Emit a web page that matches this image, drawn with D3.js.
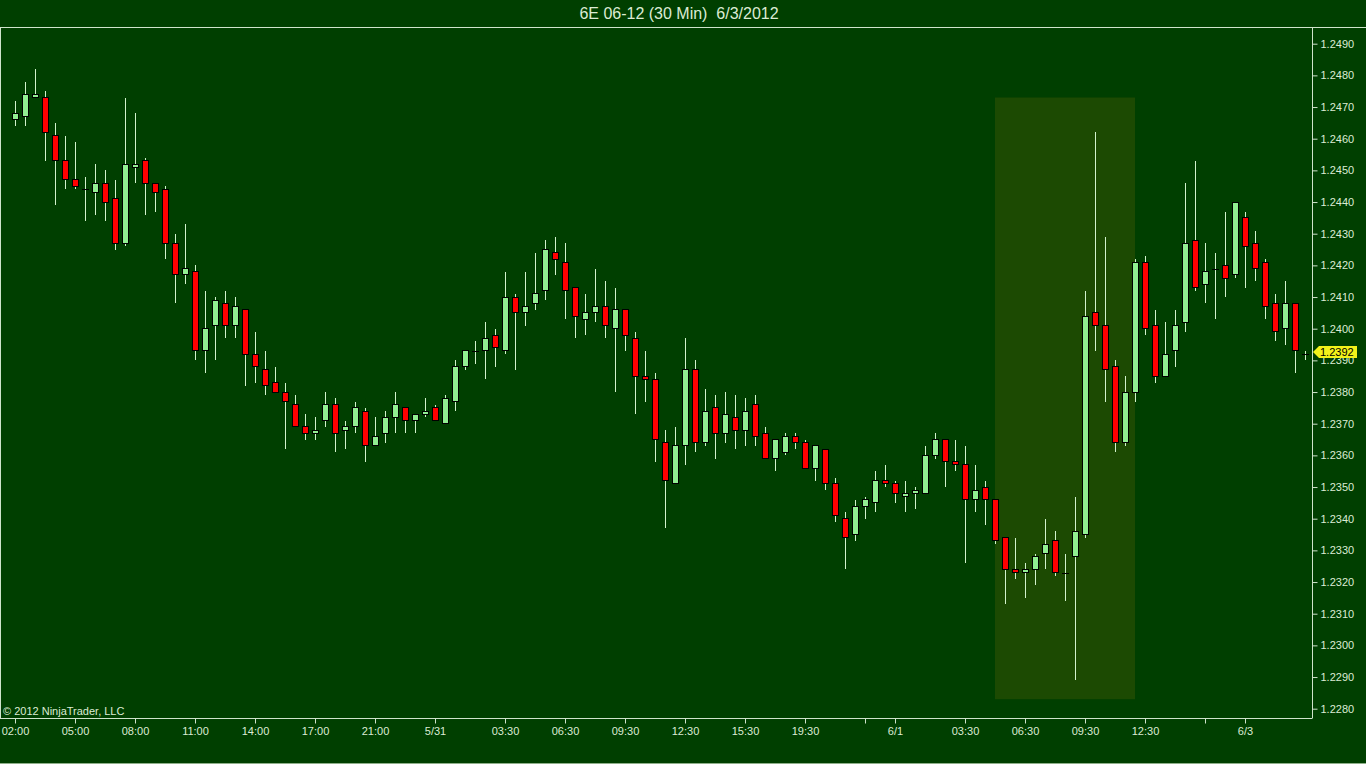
<!DOCTYPE html>
<html>
<head>
<meta charset="utf-8">
<script src="https://cdn.jsdelivr.net/npm/d3@7"></script>
<style>
  html, body { margin: 0; padding: 0; background: #003f00; }
  svg { display: block; }
  text { font-family: "Liberation Sans", Arial, sans-serif; }
</style>
</head>
<body>
<div id="plot-container"></div>
<script>
// 30 min bars, 6E 06-12
var opens = [
  1.2466, 1.2467, 1.2473, 1.2473, 1.2461, 1.2453, 1.2447, 1.2444, 1.2443, 1.2446,
  1.2441, 1.2427, 1.2451, 1.2453, 1.2446, 1.2444, 1.2427, 1.2417, 1.2418, 1.2393,
  1.2401, 1.2408, 1.2401, 1.2406, 1.2392, 1.2387, 1.2383, 1.2380, 1.2376, 1.2369,
  1.2367, 1.2371, 1.2376, 1.2368, 1.2369, 1.2374, 1.2363, 1.2367, 1.2372, 1.2375,
  1.2371, 1.2373, 1.2375, 1.2370, 1.2377, 1.2388, 1.2393, 1.2393, 1.2398, 1.2393,
  1.2410, 1.2405, 1.2408, 1.2412, 1.2424, 1.2421, 1.2413, 1.2403, 1.2405, 1.2407,
  1.2400, 1.2406, 1.2397, 1.2385, 1.2384, 1.2364, 1.2351, 1.2363, 1.2387, 1.2364,
  1.2375, 1.2367, 1.2372, 1.2368, 1.2376, 1.2367, 1.2359, 1.2361, 1.2366, 1.2364,
  1.2356, 1.2362, 1.2351, 1.2340, 1.2335, 1.2344, 1.2345, 1.2352, 1.2351, 1.2347,
  1.2348, 1.2348, 1.2360, 1.2365, 1.2358, 1.2357, 1.2346, 1.2350, 1.2346, 1.2334,
  1.2324, 1.2323, 1.2324, 1.2329, 1.2333, 1.2323, 1.2328, 1.2335, 1.2405, 1.2401,
  1.2388, 1.2364, 1.2380, 1.2421, 1.2401, 1.2385, 1.2393, 1.2402, 1.2428, 1.2414,
  1.2419, 1.2420, 1.2417, 1.2435, 1.2427, 1.2421, 1.2408, 1.2400, 1.2408, 1.2392
];
var highs = [
  1.2472, 1.2478, 1.2482, 1.2475, 1.2465, 1.2461, 1.2459, 1.2448, 1.2452, 1.2450,
  1.2447, 1.2473, 1.2468, 1.2454, 1.2446, 1.2445, 1.2430, 1.2433, 1.2420, 1.2412,
  1.2410, 1.2412, 1.2410, 1.2406, 1.2399, 1.2393, 1.2388, 1.2383, 1.2379, 1.2373,
  1.2372, 1.2380, 1.2378, 1.2371, 1.2377, 1.2375, 1.2372, 1.2374, 1.2380, 1.2375,
  1.2373, 1.2378, 1.2376, 1.2379, 1.2390, 1.2393, 1.2396, 1.2402, 1.2400, 1.2418,
  1.2411, 1.2418, 1.2424, 1.2428, 1.2429, 1.2427, 1.2413, 1.2411, 1.2419, 1.2415,
  1.2413, 1.2406, 1.2399, 1.2393, 1.2386, 1.2368, 1.2369, 1.2397, 1.2390, 1.2381,
  1.2379, 1.2380, 1.2379, 1.2378, 1.2379, 1.2369, 1.2365, 1.2367, 1.2367, 1.2365,
  1.2363, 1.2362, 1.2353, 1.2342, 1.2346, 1.2347, 1.2355, 1.2357, 1.2352, 1.2352,
  1.2350, 1.2363, 1.2367, 1.2365, 1.2365, 1.2363, 1.2357, 1.2352, 1.2346, 1.2334,
  1.2334, 1.2326, 1.2329, 1.2340, 1.2336, 1.2329, 1.2347, 1.2412, 1.2462, 1.2429,
  1.2390, 1.2385, 1.2422, 1.2423, 1.2406, 1.2402, 1.2406, 1.2446, 1.2453, 1.2427,
  1.2424, 1.2437, 1.2440, 1.2437, 1.2431, 1.2422, 1.2411, 1.2415, 1.2408, 1.2393
];
var lows = [
  1.2464, 1.2464, 1.2473, 1.2453, 1.2439, 1.2444, 1.2444, 1.2434, 1.2436, 1.2434,
  1.2425, 1.2426, 1.2446, 1.2436, 1.2437, 1.2422, 1.2408, 1.2414, 1.2390, 1.2386,
  1.2390, 1.2397, 1.2397, 1.2382, 1.2383, 1.2379, 1.2380, 1.2362, 1.2369, 1.2365,
  1.2365, 1.2369, 1.2361, 1.2362, 1.2367, 1.2358, 1.2363, 1.2364, 1.2367, 1.2367,
  1.2367, 1.2372, 1.2371, 1.2370, 1.2374, 1.2387, 1.2389, 1.2384, 1.2388, 1.2392,
  1.2387, 1.2401, 1.2406, 1.2409, 1.2417, 1.2403, 1.2397, 1.2398, 1.2402, 1.2397,
  1.2380, 1.2393, 1.2373, 1.2377, 1.2358, 1.2337, 1.2351, 1.2357, 1.2361, 1.2363,
  1.2359, 1.2364, 1.2362, 1.2363, 1.2363, 1.2359, 1.2355, 1.2360, 1.2362, 1.2356,
  1.2352, 1.2349, 1.2339, 1.2324, 1.2333, 1.2340, 1.2342, 1.2350, 1.2345, 1.2342,
  1.2343, 1.2348, 1.2359, 1.2350, 1.2355, 1.2326, 1.2342, 1.2338, 1.2332, 1.2313,
  1.2321, 1.2315, 1.2319, 1.2324, 1.2322, 1.2314, 1.2289, 1.2334, 1.2393, 1.2377,
  1.2361, 1.2363, 1.2377, 1.2398, 1.2383, 1.2385, 1.2388, 1.2399, 1.2412, 1.2408,
  1.2403, 1.2410, 1.2416, 1.2413, 1.2415, 1.2403, 1.2396, 1.2395, 1.2386, 1.2390
];
var closes = [
  1.2468, 1.2474, 1.2474, 1.2462, 1.2453, 1.2447, 1.2445, 1.2444, 1.2446, 1.2440,
  1.2427, 1.2452, 1.2452, 1.2446, 1.2443, 1.2427, 1.2417, 1.2419, 1.2393, 1.2400,
  1.2409, 1.2401, 1.2407, 1.2392, 1.2388, 1.2382, 1.2380, 1.2377, 1.2369, 1.2367,
  1.2368, 1.2376, 1.2367, 1.2369, 1.2375, 1.2363, 1.2366, 1.2372, 1.2376, 1.2371,
  1.2373, 1.2374, 1.2371, 1.2378, 1.2388, 1.2393, 1.2393, 1.2397, 1.2394, 1.2410,
  1.2405, 1.2407, 1.2411, 1.2425, 1.2422, 1.2412, 1.2404, 1.2405, 1.2407, 1.2401,
  1.2406, 1.2398, 1.2385, 1.2384, 1.2365, 1.2352, 1.2363, 1.2387, 1.2364, 1.2374,
  1.2367, 1.2373, 1.2368, 1.2374, 1.2366, 1.2359, 1.2365, 1.2366, 1.2364, 1.2356,
  1.2363, 1.2351, 1.2341, 1.2334, 1.2344, 1.2346, 1.2352, 1.2351, 1.2348, 1.2348,
  1.2349, 1.2360, 1.2365, 1.2358, 1.2357, 1.2346, 1.2349, 1.2346, 1.2333, 1.2324,
  1.2323, 1.2324, 1.2328, 1.2332, 1.2323, 1.2323, 1.2336, 1.2404, 1.2401, 1.2387,
  1.2364, 1.2380, 1.2421, 1.2400, 1.2385, 1.2392, 1.2401, 1.2427, 1.2413, 1.2418,
  1.2419, 1.2416, 1.2440, 1.2426, 1.2419, 1.2407, 1.2399, 1.2408, 1.2393, 1.2392
];

// time axis: bar index of each tick and its label ("" = tick without label)
var tickBars   = [0, 6, 12, 18, 24, 30, 36, 42, 49, 55, 61, 67, 73, 79, 85, 88, 95, 101, 107, 113, 119, 123];
var tickLabels = ["02:00", "05:00", "08:00", "11:00", "14:00", "17:00", "21:00", "5/31", "03:30", "06:30", "09:30",
                  "12:30", "15:30", "19:30", "", "6/1", "03:30", "06:30", "09:30", "12:30", "", "6/3"];

var priceTicks = [1.2280, 1.2290, 1.2300, 1.2310, 1.2320, 1.2330, 1.2340, 1.2350, 1.2360, 1.2370, 1.2380,
                  1.2390, 1.2400, 1.2410, 1.2420, 1.2430, 1.2440, 1.2450, 1.2460, 1.2470, 1.2480, 1.2490];

// shaded region drawn on the chart
var zoneBars = [98, 112];
var zonePrices = [1.2283, 1.2473];

var title = "6E 06-12 (30 Min)  6/3/2012";

var width = 1366, height = 764;
var plotRight = 1312, plotTop = 27, plotBottom = 718;

var bg = "#003f00";
var lineColor = "#cfe3cb";
var textColor = "#dcebd4";

var bars = opens.map(function(o, i){
  return {i: i, o: o, h: highs[i], l: lows[i], c: closes[i]};
});

var x = d3.scaleLinear().domain([0, 129]).range([15, 1305]);
var y = d3.scaleLinear().domain([1.2280, 1.2490]).range([708.7, 43.7]);

var svg = d3.select("#plot-container")
  .append("svg")
  .attr("width", width)
  .attr("height", height);

svg.append("rect")
  .attr("width", width)
  .attr("height", height)
  .attr("fill", bg);

// title
svg.append("text")
  .attr("x", 679)
  .attr("y", 19)
  .attr("text-anchor", "middle")
  .attr("font-size", 16)
  .attr("fill", textColor)
  .style("white-space", "pre")
  .text(title);

// shaded zone
svg.append("rect")
  .attr("x", x(zoneBars[0]))
  .attr("y", y(zonePrices[1]))
  .attr("width", x(zoneBars[1]) - x(zoneBars[0]))
  .attr("height", y(zonePrices[0]) - y(zonePrices[1]))
  .attr("fill", "#1c4a02");

// candles
var candle = svg.append("g").attr("shape-rendering", "crispEdges")
  .selectAll("g")
  .data(bars)
  .enter().append("g");

candle.append("line")
  .attr("x1", function(d){ return Math.round(x(d.i)) + 0.5; })
  .attr("x2", function(d){ return Math.round(x(d.i)) + 0.5; })
  .attr("y1", function(d){ return y(d.h); })
  .attr("y2", function(d){ return y(d.l); })
  .attr("stroke", "#d2f2cc")
  .attr("stroke-width", 1);

candle.filter(function(d){ return d.o !== d.c; })
  .append("rect")
  .attr("x", function(d){ return Math.round(x(d.i)) - 2.5; })
  .attr("y", function(d){ return y(Math.max(d.o, d.c)); })
  .attr("width", 6)
  .attr("height", function(d){ return Math.abs(y(d.o) - y(d.c)); })
  .attr("fill", function(d){ return d.c > d.o ? "#90ee90" : "#ff0000"; })
  .attr("stroke", "#000")
  .attr("stroke-width", 1);

candle.filter(function(d){ return d.o === d.c; })
  .append("line")
  .attr("x1", function(d){ return Math.round(x(d.i)) - 3; })
  .attr("x2", function(d){ return Math.round(x(d.i)) + 4; })
  .attr("y1", function(d){ return Math.round(y(d.c)) + 0.5; })
  .attr("y2", function(d){ return Math.round(y(d.c)) + 0.5; })
  .attr("stroke", "#000")
  .attr("stroke-width", 1);

// frame lines
svg.append("line")
  .attr("x1", 0).attr("x2", width)
  .attr("y1", plotTop + 0.5).attr("y2", plotTop + 0.5)
  .attr("stroke", lineColor);
svg.append("line")
  .attr("x1", 0.5).attr("x2", 0.5)
  .attr("y1", plotTop).attr("y2", plotBottom)
  .attr("stroke", lineColor);
svg.append("line")
  .attr("x1", 0).attr("x2", width)
  .attr("y1", height - 0.5).attr("y2", height - 0.5)
  .attr("stroke", "#8fb08a");

// price axis
var yAxis = d3.axisRight(y)
  .tickValues(priceTicks)
  .tickSize(5)
  .tickPadding(3)
  .tickSizeOuter(0)
  .tickFormat(d3.format(".4f"));

var gy = svg.append("g")
  .attr("transform", "translate(" + (plotRight + 0.5) + ",0)")
  .call(yAxis);
gy.select(".domain").attr("d", "M0," + plotTop + "V" + plotBottom).attr("stroke", lineColor);
gy.selectAll(".tick line").attr("stroke", lineColor);
gy.selectAll(".tick text")
  .attr("fill", textColor)
  .attr("font-size", 11)
  .attr("font-family", "Liberation Sans, Arial, sans-serif");

// time axis
var xAxis = d3.axisBottom(x)
  .tickValues(tickBars)
  .tickSize(5)
  .tickPadding(4)
  .tickSizeOuter(0)
  .tickFormat(function(d){ return tickLabels[tickBars.indexOf(d)]; });

var gx = svg.append("g")
  .attr("transform", "translate(0," + (plotBottom + 0.5) + ")")
  .call(xAxis);
gx.select(".domain").attr("d", "M0,0H" + (plotRight + 0.5)).attr("stroke", lineColor);
gx.selectAll(".tick line").attr("stroke", lineColor);
gx.selectAll(".tick text")
  .attr("fill", textColor)
  .attr("font-size", 11)
  .attr("font-family", "Liberation Sans, Arial, sans-serif");

// copyright
svg.append("text")
  .attr("x", 3)
  .attr("y", 715)
  .attr("font-size", 11)
  .attr("fill", textColor)
  .text("\u00a9 2012 NinjaTrader, LLC");

// last price marker (covers the 1.2390 label, as in the original)
var last = closes[closes.length - 1];
var ly = Math.round(y(last)) - 2;
svg.append("path")
  .attr("d", "M" + (plotRight + 1) + "," + ly + "L" + (plotRight + 7) + "," + (ly - 6) +
             "H1357V" + (ly + 6) + "H" + (plotRight + 7) + "Z")
  .attr("fill", "#f2f21a");
svg.append("text")
  .attr("x", 1320)
  .attr("y", ly + 4)
  .attr("font-size", 11)
  .attr("fill", "#000")
  .text(d3.format(".4f")(last));
</script>
</body>
</html>
